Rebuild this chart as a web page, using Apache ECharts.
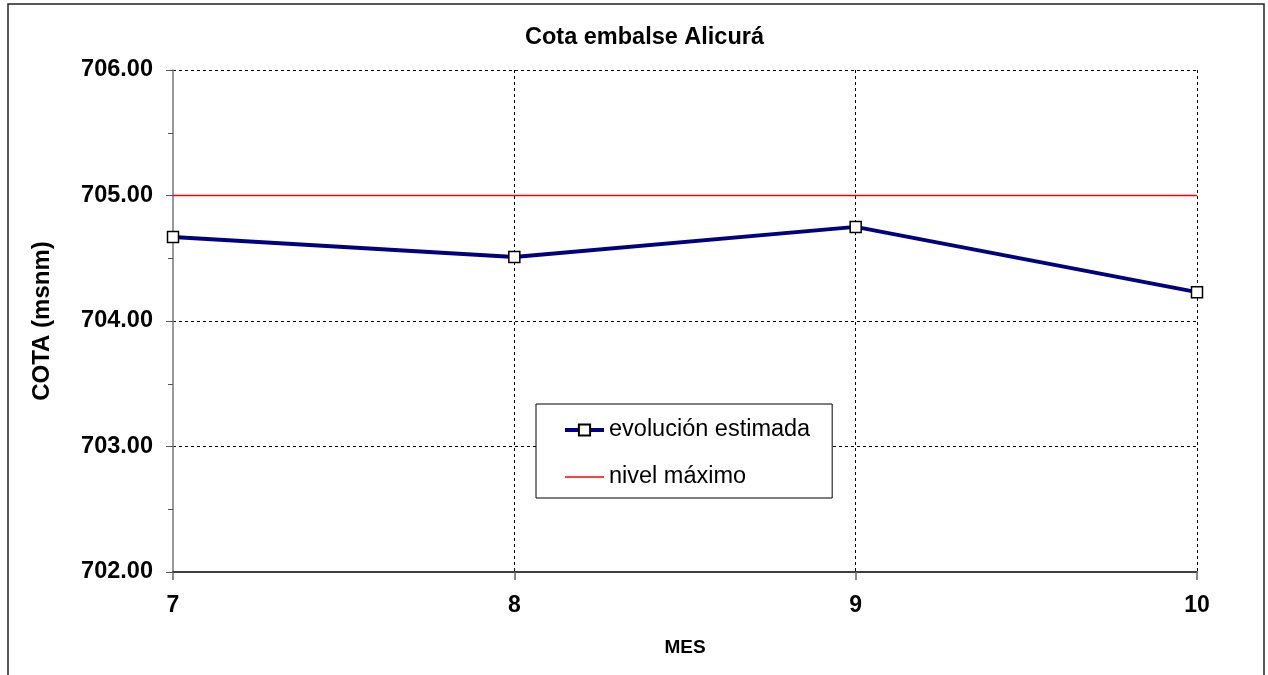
<!DOCTYPE html>
<html>
<head>
<meta charset="utf-8">
<script src="https://cdn.jsdelivr.net/npm/echarts@6/dist/echarts.min.js"></script>
<style>
html,body{margin:0;padding:0;background:#fff;}
#c{width:1268px;height:675px;}
</style>
</head>
<body>
<div id="c"></div>
<script>
const months = [7, 8, 9, 10];
const evolucion = [704.67, 704.51, 704.75, 704.23];
const nivelMax = [705.00, 705.00, 705.00, 705.00];
const yTicks = { min: 702, max: 706, step: 1 };
const xTicks = { min: 7, max: 10, step: 1 };

const FONT = '"Liberation Sans", Arial, sans-serif';
const chart = echarts.init(document.getElementById('c'));
chart.setOption({
  backgroundColor: '#fff',
  animation: false,
  textStyle: { fontFamily: FONT },
  title: {
    text: 'Cota embalse Alicurá',
    left: 520, top: 21,
    textStyle: { fontFamily: FONT, fontSize: 23.5, fontWeight: 'bold', color: '#000' }
  },
  graphic: [{
    type: 'rect', silent: true, z: -1,
    shape: { x: 8, y: 4, width: 1256, height: 720 },
    style: { fill: null, stroke: '#222', lineWidth: 1.5 }
  }],
  grid: { left: 173, right: 71, top: 70, bottom: 103, containLabel: false },
  legend: {
    orient: 'vertical', left: 536, top: 404,
    padding: [14, 22, 9, 27],
    borderColor: '#000', borderWidth: 1, backgroundColor: '#fff',
    itemWidth: 39, itemHeight: 14, itemGap: 23,
    textStyle: { fontFamily: FONT, fontSize: 23.5, color: '#000', lineHeight: 22 },
    data: [
      { name: 'evolución estimada', lineStyle: { width: 4, color: '#000080' } },
      { name: 'nivel máximo', itemStyle: { opacity: 0 }, lineStyle: { width: 1.3, color: '#ff0000' } }
    ]
  },
  xAxis: {
    type: 'value', min: xTicks.min, max: xTicks.max, interval: xTicks.step,
    name: 'MES', nameLocation: 'middle', nameGap: 66,
    nameTextStyle: { fontFamily: FONT, fontSize: 19, fontWeight: 'bold', color: '#000' },
    axisLine: { show: true, onZero: false, lineStyle: { color: '#000', width: 1.5 } },
    axisTick: { show: true, length: 8, lineStyle: { color: '#666', width: 1.5 } },
    axisLabel: { fontFamily: FONT, fontSize: 23, fontWeight: 'bold', color: '#000', margin: 22 },
    splitLine: { show: true, showMinLine: false, lineStyle: { color: '#000', type: [3, 3], width: 1 } }
  },
  yAxis: {
    type: 'value', min: yTicks.min, max: yTicks.max, interval: yTicks.step,
    name: 'COTA (msnm)', nameLocation: 'middle', nameGap: 119,
    nameTextStyle: { fontFamily: FONT, fontSize: 24, fontWeight: 'bold', color: '#000' },
    axisLine: { show: true, lineStyle: { color: '#777', width: 1.5 } },
    axisTick: { show: true, length: 7, lineStyle: { color: '#555', width: 1 } },
    minorTick: { show: true, splitNumber: 2, length: 5, lineStyle: { color: '#555', width: 1 } },
    axisLabel: {
      fontFamily: FONT, fontSize: 23.5, fontWeight: 'bold', color: '#000', margin: 20,
      formatter: v => v.toFixed(2)
    },
    splitLine: { show: true, showMinLine: false, lineStyle: { color: '#000', type: [3, 3], width: 1 } }
  },
  series: [
    {
      name: 'nivel máximo', type: 'line',
      data: months.map((m, i) => [m, nivelMax[i]]),
      showSymbol: false, symbol: 'none',
      lineStyle: { color: '#ff0000', width: 1.3 },
      itemStyle: { color: '#ff0000' },
      z: 2
    },
    {
      name: 'evolución estimada', type: 'line',
      data: months.map((m, i) => [m, evolucion[i]]),
      symbol: 'rect', symbolSize: 11,
      lineStyle: { color: '#000080', width: 4 },
      itemStyle: { color: '#fff', borderColor: '#000', borderWidth: 1.5 },
      z: 3
    }
  ]
});
</script>
</body>
</html>
